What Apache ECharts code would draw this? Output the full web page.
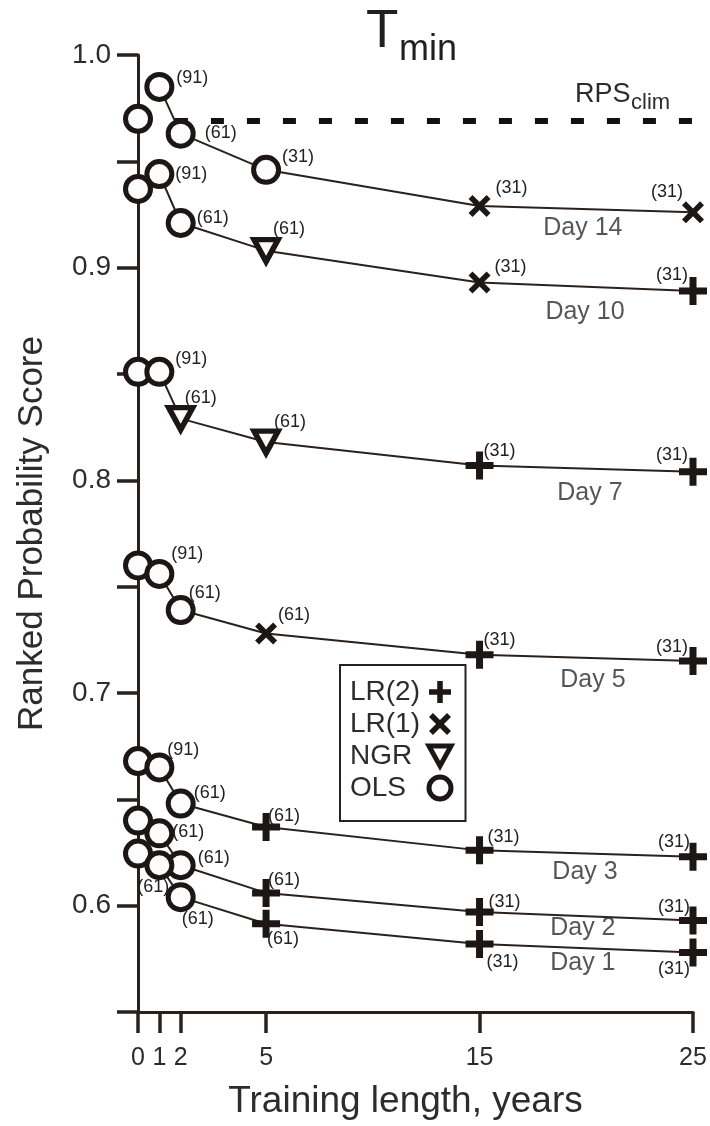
<!DOCTYPE html>
<html><head><meta charset="utf-8">
<script src="https://cdn.jsdelivr.net/npm/echarts@6/dist/echarts.min.js"></script>
<style>html,body{margin:0;padding:0;background:#fff}#c{width:710px;height:1126px}</style>
</head><body><div id="c"></div>
<script>
// ---------- data ----------
const trainingYears = [0, 1, 2, 5, 15, 25];
// plotted x positions: in the original the 0,1,2 columns sit one unit left of a linear scale
const xPlotPos = [-1, 0, 1, 5, 15, 25];
const dayNames = ['Day 14', 'Day 10', 'Day 7', 'Day 5', 'Day 3', 'Day 2', 'Day 1'];

const rpsDay14 = [0.970, 0.985, 0.963, 0.946, 0.929, 0.926];
const rpsDay10 = [0.937, 0.944, 0.921, 0.908, 0.893, 0.889];
const rpsDay7  = [0.851, 0.851, 0.829, 0.818, 0.807, 0.804];
const rpsDay5  = [0.760, 0.756, 0.739, 0.728, 0.718, 0.715];
const rpsDay3  = [0.668, 0.665, 0.648, 0.637, 0.626, 0.623];
const rpsDay2  = [0.640, 0.634, 0.619, 0.606, 0.597, 0.593];
const rpsDay1  = [0.6245, 0.619, 0.604, 0.5915, 0.582, 0.578];

const methodDay14 = ['OLS', 'OLS', 'OLS', 'OLS', 'LR(1)', 'LR(1)'];
const methodDay10 = ['OLS', 'OLS', 'OLS', 'NGR', 'LR(1)', 'LR(2)'];
const methodDay7  = ['OLS', 'OLS', 'NGR', 'NGR', 'LR(2)', 'LR(2)'];
const methodDay5  = ['OLS', 'OLS', 'OLS', 'LR(1)', 'LR(2)', 'LR(2)'];
const methodDay3  = ['OLS', 'OLS', 'OLS', 'LR(2)', 'LR(2)', 'LR(2)'];
const methodDay2  = ['OLS', 'OLS', 'OLS', 'LR(2)', 'LR(2)', 'LR(2)'];
const methodDay1  = ['OLS', 'OLS', 'OLS', 'LR(2)', 'LR(2)', 'LR(2)'];

const countDay14 = [null, 91, 61, 31, 31, 31];
const countDay10 = [null, 91, 61, 61, 31, 31];
const countDay7  = [null, 91, 61, 61, 31, 31];
const countDay5  = [null, 91, 61, 61, 31, 31];
const countDay3  = [null, 91, 61, 61, 31, 31];
const countDay2  = [null, 61, 61, 61, 31, 31];
const countDay1  = [null, 61, 61, 61, 31, 31];

const rpsClim = 0.969;
const rpsClimStartPos = 0.73;
const yLabelValues = [0.6, 0.7, 0.8, 0.9, 1.0];
const methodNames = ['LR(2)', 'LR(1)', 'NGR', 'OLS'];

// day-label anchors (data coordinates)
const dayLabelPos = [19.84, 19.94, 20.17, 20.31, 19.94, 19.84, 19.84];
const dayLabelRps = [0.9187, 0.8792, 0.7941, 0.7062, 0.6159, 0.5896, 0.5731];

// ---------- layout / style ----------
const countLabelOffsets = [
  [null, [33, -9], [40, -1], [32, -13], [32, -18], [-26, -20]],
  [null, [32, 0], [32, -5], [23, -22], [31, -16], [-21, -16]],
  [null, [32, -13], [20, -21], [24, -20], [20, -14], [-21, -17]],
  [null, [28, -20], [24, -17], [28, -18], [20, -15], [-21, -14]],
  [null, [24, -17], [29, -11], [18, -11], [24, -13], [-19, -15]],
  [null, [29, -1], [33, -7], [18, -13], [25, -10], [-19, -14]],
  [null, [-6, 22], [17, 22], [17, 15], [23, 18], [-19, 17]]
];
const INK = '#1c1714';
const LINE = '#2a211c';
const TXT = '#2c2c2c';
const FONT = '"Liberation Sans", Arial, Helvetica, sans-serif';

const rpsAll = [rpsDay14, rpsDay10, rpsDay7, rpsDay5, rpsDay3, rpsDay2, rpsDay1];
const methodAll = [methodDay14, methodDay10, methodDay7, methodDay5, methodDay3, methodDay2, methodDay1];
const countAll = [countDay14, countDay10, countDay7, countDay5, countDay3, countDay2, countDay1];

const symbolDefs = {
  'LR(2)': { symbol: 'path://M3,0H5V3H8V5H5V8H3V5H0V3H3Z', size: 28,
             style: { color: INK, borderWidth: 0 }, legendStyle: { borderWidth: 0 } },
  'LR(1)': { symbol: 'path://M0,1.8L1.8,0L5,3.2L8.2,0L10,1.8L6.8,5L10,8.2L8.2,10L5,6.8L1.8,10L0,8.2L3.2,5Z', size: 22,
             style: { color: INK, borderWidth: 0 }, legendStyle: { borderWidth: 0 } },
  'NGR':   { symbol: 'path://M0,0H10L5,9Z', size: [24, 22],
             style: { color: '#fcfcfc', borderColor: INK, borderWidth: 5.5 },
             legendStyle: { color: '#fcfcfc', borderColor: INK, borderWidth: 5 } },
  'OLS':   { symbol: 'circle', size: 25,
             style: { color: '#fcfcfc', borderColor: INK, borderWidth: 5 },
             legendStyle: { color: '#fcfcfc', borderColor: INK, borderWidth: 5 } }
};

const series = [];

// climatology reference line
series.push({
  type: 'line', name: 'RPSclim', silent: true, symbol: 'none', z: 1,
  data: [[rpsClimStartPos, rpsClim], [xPlotPos[xPlotPos.length - 1], rpsClim]],
  lineStyle: { color: '#111', width: 6, type: [13, 23] }
});

// connecting lines per day (the 0-year point stands alone)
rpsAll.forEach((rps, d) => {
  series.push({
    type: 'line', name: dayNames[d], silent: true, symbol: 'none', z: 2,
    data: rps.slice(1).map((v, i) => [xPlotPos[i + 1], v]),
    lineStyle: { color: LINE, width: 2 }
  });
});

// marker series per method
methodNames.forEach(m => {
  const def = symbolDefs[m];
  const data = [];
  rpsAll.forEach((rps, d) => {
    rps.forEach((v, i) => {
      if (methodAll[d][i] !== m) return;
      const c = countAll[d][i];
      const item = { value: [xPlotPos[i], v], name: c == null ? '' : '(' + c + ')' };
      if (c != null) item.label = { show: true, offset: countLabelOffsets[d][i] };
      data.push(item);
    });
  });
  series.push({
    type: 'scatter', name: m, z: 4, symbol: def.symbol, symbolSize: def.size,
    itemStyle: Object.assign({ opacity: 1 }, def.style),
    label: { show: false, position: 'inside', formatter: '{b}', color: '#222',
             fontSize: 18, fontFamily: FONT },
    data: data
  });
});

// day labels
series.push({
  type: 'scatter', name: 'dayLabels', silent: true, symbolSize: 0, z: 3,
  data: dayNames.map((n, d) => ({ value: [dayLabelPos[d], dayLabelRps[d]], name: n })),
  label: { show: true, position: 'inside', formatter: '{b}', color: TXT, fontSize: 25, fontFamily: FONT }
});

const chart = echarts.init(document.getElementById('c'), null, { renderer: 'canvas' });
chart.setOption({
  animation: false,
  backgroundColor: '#fff',
  textStyle: { fontFamily: FONT },
  grid: { left: 138, right: 17, top: 55, bottom: 114, containLabel: false },
  xAxis: {
    type: 'value', min: -1, max: 25,
    name: 'Training length, years', nameLocation: 'middle', nameGap: 71,
    nameTextStyle: { fontSize: 37, color: TXT, fontFamily: FONT, padding: [0, 20, 0, 0] },
    axisLine: { onZero: false, lineStyle: { color: LINE, width: 3 } },
    axisTick: { show: true, length: 21, lineStyle: { color: LINE, width: 3.5 }, customValues: xPlotPos },
    axisLabel: {
      fontSize: 25, color: TXT, margin: 34, customValues: xPlotPos,
      formatter: v => { const k = xPlotPos.indexOf(v); return k < 0 ? '' : String(trainingYears[k]); }
    },
    splitLine: { show: false }
  },
  yAxis: {
    type: 'value', min: 0.55, max: 1.0, interval: 0.05,
    name: 'Ranked Probability Score', nameLocation: 'middle', nameGap: 88,
    nameTextStyle: { fontSize: 35, color: TXT, fontFamily: FONT },
    axisLine: { show: true, onZero: false, lineStyle: { color: LINE, width: 3 } },
    axisTick: { show: true, length: 21, lineStyle: { color: LINE, width: 3.5 } },
    axisLabel: { fontSize: 28, color: TXT, margin: 27, customValues: yLabelValues,
                 formatter: v => v.toFixed(1) },
    splitLine: { show: false }
  },
  legend: {
    data: methodNames.map(m => ({ name: m, itemStyle: symbolDefs[m].legendStyle })),
    orient: 'vertical', left: 340, top: 665, align: 'right',
    itemWidth: 22, itemHeight: 22, itemGap: 4,
    padding: [13, 12, 19, 10],
    borderColor: '#222', borderWidth: 2, backgroundColor: '#fff',
    selectedMode: false,
    formatter: n => '{a|' + n + '}',
    textStyle: { fontSize: 28, color: TXT, fontFamily: FONT,
                 rich: { a: { width: 74, align: 'left', fontSize: 28, color: TXT, fontFamily: FONT } } }
  },
  graphic: [
    { type: 'text', x: 366, y: 32, style: { text: 'T', fontSize: 53, fill: '#231f1c', fontFamily: FONT, verticalAlign: 'middle', align: 'left' } },
    { type: 'text', x: 399, y: 50, style: { text: 'min', fontSize: 36, fill: '#231f1c', fontFamily: FONT, verticalAlign: 'middle', align: 'left' } },
    { type: 'text', x: 575, y: 95, style: { text: 'RPS', fontSize: 27, fill: TXT, fontFamily: FONT, verticalAlign: 'middle', align: 'left' } },
    { type: 'text', x: 631, y: 103, style: { text: 'clim', fontSize: 22, fill: TXT, fontFamily: FONT, verticalAlign: 'middle', align: 'left' } }
  ],
  series: series
});
</script>
</body></html>
